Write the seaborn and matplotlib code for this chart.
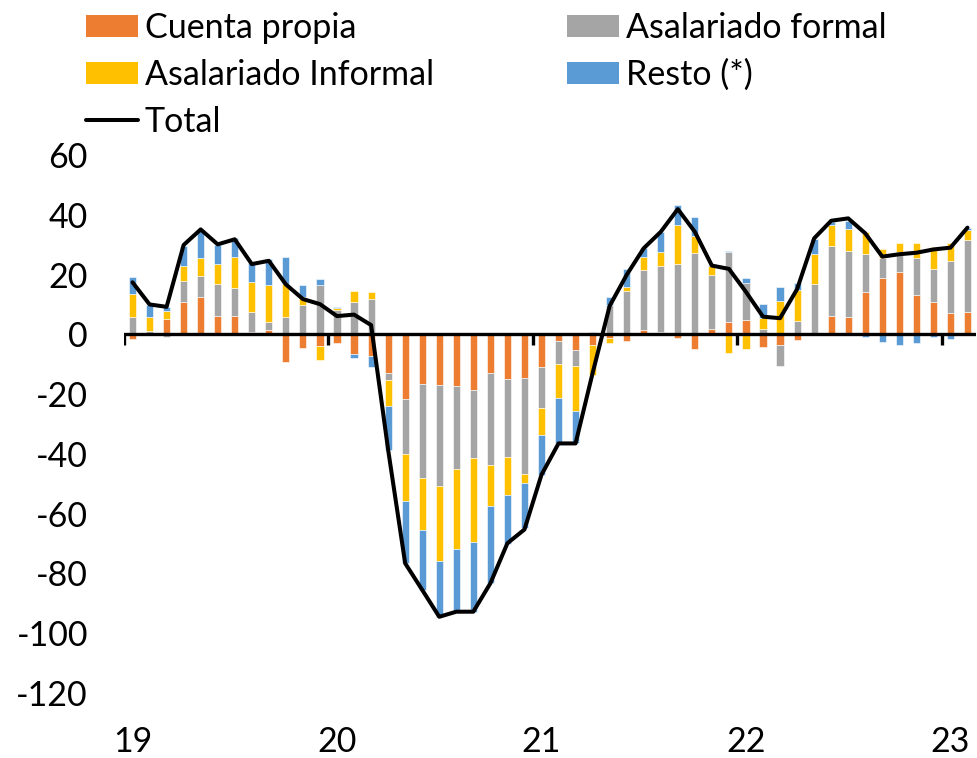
import numpy as np
import pandas as pd
import matplotlib
matplotlib.use("Agg")
import matplotlib.pyplot as plt
import seaborn as sns
from matplotlib.patches import Patch
from matplotlib.lines import Line2D

# Variación interanual del empleo por categoría ocupacional (miles), ene-19 a feb-23
years = ["19", "20", "21", "22", "23"]

cuenta_propia = [
    -1.7, 0.5, 5.2, 10.9, 12.6, 6.2, 6.2, 0.7, 1.6, -9.1, -4.7, -3.9,
    -3.0, -6.7, -7.4, -13.0, -21.6, -16.6, -17.0, -17.2, -18.5, -12.8, -15.1, -14.5,
    -11.0, -2.2, -5.2, -3.6, -1.1, -2.1, 1.3, 0.7, -1.1, -4.9, 1.8, 4.2,
    4.9, -4.3, -3.7, -1.8, 0.0, 6.2, 5.7, 14.2, 19.0, 21.0, 13.3, 10.9,
    7.0, 7.6,
]
asalariado_formal = [
    5.8, 0.6, -0.8, 7.0, 7.0, 10.7, 9.4, 6.8, 2.5, 5.8, 9.9, 16.5,
    8.0, 10.9, 11.7, -2.2, -18.5, -31.3, -33.8, -27.7, -23.0, -30.9, -25.9, -32.2,
    -13.7, -7.8, -5.4, 0.0, 9.8, 14.6, 20.3, 22.3, 23.4, 27.1, 18.1, 23.2,
    12.3, 1.9, -6.8, 4.6, 17.0, 23.4, 22.2, 12.7, 6.7, 6.5, 12.4, 10.9,
    17.6, 23.8,
]
asalariado_informal = [
    7.7, 4.6, 2.5, 4.8, 5.8, 6.7, 10.4, 10.0, 12.5, 10.9, 2.7, -4.6,
    0.7, 3.6, 2.5, -8.9, -15.8, -17.4, -25.2, -26.8, -27.9, -13.6, -12.8, -2.9,
    -9.1, -11.2, -15.1, -10.0, -1.7, 1.4, 4.3, 4.7, 13.2, 5.8, 3.1, -6.4,
    -4.9, 3.5, 11.2, 10.1, 9.8, 7.1, 7.4, 7.2, 2.9, 3.0, 4.8, 7.4,
    5.8, 3.6,
]
resto = [
    5.6, 4.1, 1.3, 6.8, 9.5, 6.2, 6.1, 6.2, 8.6, 9.1, 3.9, 2.0,
    0.4, -1.3, -3.6, -14.5, -20.6, -20.2, -18.5, -21.2, -23.4, -25.8, -16.2, -15.3,
    -13.2, -15.3, -10.8, 0.8, 2.6, 5.8, 3.0, 6.7, 6.7, 6.2, 0.3, 0.4,
    1.8, 4.8, 4.6, 2.5, 5.1, 0.9, 2.7, -0.8, -2.6, -3.5, -2.9, -0.8,
    -1.6, 0.7,
]
total = [
    17.4, 10.0, 9.2, 29.9, 35.1, 30.1, 31.8, 23.5, 24.6, 16.7, 11.8, 10.1,
    6.1, 6.6, 3.1, -38.6, -76.6, -85.5, -94.5, -92.8, -92.8, -83.3, -69.9, -65.3,
    -47.0, -36.5, -36.5, -13.0, 9.5, 19.9, 28.8, 34.3, 41.9, 34.3, 23.0, 21.9,
    14.2, 5.9, 5.4, 15.1, 32.1, 38.0, 38.8, 33.8, 26.0, 26.8, 27.3, 28.4,
    29.0, 35.7,
]

labels = ["Cuenta propia", "Asalariado formal", "Asalariado Informal", "Resto (*)"]
colors = ["#ED7D31", "#A5A5A5", "#FFC000", "#5B9BD5"]
values = [cuenta_propia, asalariado_formal, asalariado_informal, resto]

n = len(total)
mes = np.arange(n)

sns.set_theme(style="white")
plt.rcParams["font.family"] = ["Lato", "DejaVu Sans"]
plt.rcParams["text.color"] = "black"
plt.rcParams["axes.unicode_minus"] = False

FS = 24.5

fig = plt.figure(figsize=(9.78, 7.58), dpi=100)
ax = fig.add_axes([124 / 978, 1 - 693 / 758, (976 - 124) / 978, (693 - 155) / 758])

# Stacked bars: positives pile upward, negatives downward, in series order
pos_base = np.zeros(n)
neg_base = np.zeros(n)
for name, vals, col in zip(labels, values, colors):
    v = np.asarray(vals, dtype=float)
    bottom = np.where(v >= 0, pos_base, neg_base)
    df = pd.DataFrame({"mes": mes, "valor": v})
    sns.barplot(data=df, x="mes", y="valor", color=col, saturation=1,
                width=0.42, errorbar=None, bottom=bottom,
                edgecolor="white", linewidth=0.4, zorder=1, ax=ax)
    pos_base += np.clip(v, 0, None)
    neg_base += np.clip(v, None, 0)

# Zero axis with year boundary ticks
ax.axhline(0, color="black", lw=2.4, zorder=2)
limites = mes[::12] - 0.5
ax.vlines(limites, -3.7, 0, color="black", lw=2.4, zorder=2)

sns.lineplot(x=mes, y=total, color="black", linewidth=2.9, zorder=3, ax=ax)

ax.set_xlim(-0.5, n - 0.5)
ax.set_ylim(-120, 60)
ax.set_yticks(np.arange(-120, 61, 20))
ax.set_yticklabels([str(t) for t in np.arange(-120, 61, 20)])
ax.set_xticks(mes[::12])
ax.set_xticklabels(years)
ax.tick_params(axis="both", length=0, labelsize=FS, colors="black")
ax.tick_params(axis="y", pad=26)
ax.tick_params(axis="x", pad=24)
ax.set_xlabel("")
ax.set_ylabel("")
for s in ax.spines.values():
    s.set_visible(False)
ax.grid(False)

h = {lab: Patch(facecolor=c, edgecolor="none") for lab, c in zip(labels, colors)}
h_total = Line2D([0], [0], color="black", lw=2.9)

leg_kw = dict(frameon=False, fontsize=FS, handlelength=1.53, handleheight=0.62,
              handletextpad=0.2, labelspacing=0.44, borderpad=0, borderaxespad=0,
              loc="upper left")
leg1 = fig.legend([h["Cuenta propia"], h["Asalariado Informal"], h_total],
                  ["Cuenta propia", "Asalariado Informal", "Total"],
                  bbox_to_anchor=(86 / 978, 1 - 12 / 758), **leg_kw)
leg2 = fig.legend([h["Asalariado formal"], h["Resto (*)"]],
                  ["Asalariado formal", "Resto (*)"],
                  bbox_to_anchor=(567 / 978, 1 - 12 / 758), **leg_kw)

fig.savefig("out.png", dpi=100)
